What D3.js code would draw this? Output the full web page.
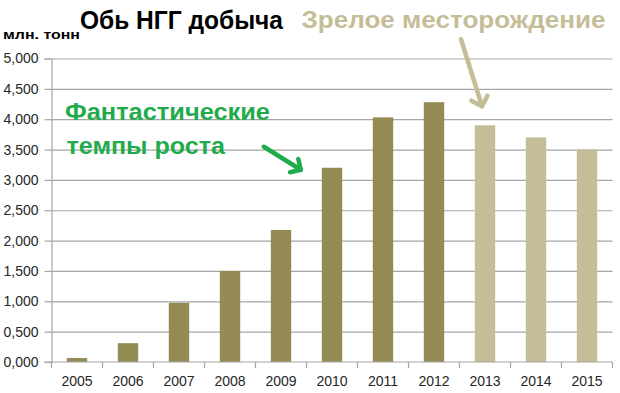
<!DOCTYPE html>
<html>
<head>
<meta charset="utf-8">
<script src="https://cdn.jsdelivr.net/npm/d3@7"></script>
<style>
  html, body { margin: 0; padding: 0; background: #fff; }
  svg { display: block; font-family: "Liberation Sans", Arial, sans-serif; }
</style>
</head>
<body>
<svg id="chart" width="620" height="393"></svg>
<script>
// ---- data ----
const years = ["2005","2006","2007","2008","2009","2010","2011","2012","2013","2014","2015"];
const production = [0.065, 0.31, 0.975, 1.5, 2.175, 3.2, 4.03, 4.28, 3.9, 3.7, 3.5];
const phase = ["growth","growth","growth","growth","growth","growth","growth","growth","mature","mature","mature"];
const yTicks = [0, 0.5, 1, 1.5, 2, 2.5, 3, 3.5, 4, 4.5, 5];
const titleText = "Обь НГГ добыча";
const subtitleText = "Зрелое месторождение";
const unitText = "млн. тонн";
const growthNote = ["Фантастические", "темпы роста"];

// ---- layout ----
const svg = d3.select("#chart");
const plotLeft = 51.5, plotRight = 612.5, plotTop = 58.5, plotBottom = 362;
const colors = { growth: "#948A54", mature: "#C4BD97" };
const gridColor = "#a6a6a6";
const green = "#22ab4c";

const x = d3.scaleBand().domain(years).range([plotLeft, plotRight]).paddingInner(0.6).paddingOuter(0.3);
const y = d3.scaleLinear().domain([0, 5]).range([plotBottom, plotTop]);
const fmt = v => d3.format(".3f")(v).replace(".", ",");

// gridlines
svg.append("g")
  .attr("transform", `translate(${plotLeft},0)`)
  .call(d3.axisLeft(y).tickValues(yTicks.filter(d => d > 0)).tickSize(-(plotRight - plotLeft)).tickFormat(""))
  .call(g => g.select(".domain").remove())
  .call(g => g.selectAll("line").attr("stroke", gridColor).attr("stroke-width", 1.2));

// y axis
svg.append("g")
  .attr("transform", `translate(${plotLeft},0)`)
  .call(d3.axisLeft(y).tickValues(yTicks).tickSize(7).tickPadding(6).tickFormat(fmt))
  .call(g => g.select(".domain").attr("stroke", gridColor).attr("stroke-width", 1.2))
  .call(g => g.selectAll("line").attr("stroke", gridColor).attr("stroke-width", 1.2))
  .call(g => g.selectAll("text").attr("fill", "#262626").attr("font-size", 14)
     .attr("font-family", "'Liberation Sans', Arial, sans-serif"));

// bars
svg.append("g").selectAll("rect")
  .data(years.map((yr, i) => ({ yr, v: production[i], p: phase[i] })))
  .join("rect")
  .attr("x", d => x(d.yr))
  .attr("width", x.bandwidth())
  .attr("y", d => y(d.v))
  .attr("height", d => y(0) - y(d.v))
  .attr("fill", d => colors[d.p]);

// x axis
const step = x.step();
const boundaries = years.map(yr => x(yr) - step * x.paddingOuter()).concat([plotRight]);
const xg = svg.append("g");
xg.append("line").attr("x1", plotLeft - 7).attr("x2", plotRight).attr("y1", plotBottom).attr("y2", plotBottom)
  .attr("stroke", gridColor).attr("stroke-width", 1.2);
xg.selectAll("line.tick").data(boundaries).join("line").attr("class", "tick")
  .attr("x1", d => d).attr("x2", d => d).attr("y1", plotBottom).attr("y2", plotBottom + 6)
  .attr("stroke", gridColor).attr("stroke-width", 1.2);
svg.append("g")
  .attr("transform", `translate(0,${plotBottom})`)
  .call(d3.axisBottom(x).tickSize(0).tickPadding(14))
  .call(g => g.select(".domain").remove())
  .call(g => g.selectAll("text").attr("fill", "#262626").attr("font-size", 14)
     .attr("font-family", "'Liberation Sans', Arial, sans-serif"));

// titles
svg.append("text").attr("x", 80).attr("y", 28.5)
  .attr("font-size", 25).attr("font-weight", "bold").attr("fill", "#000")
  .attr("textLength", 203).attr("lengthAdjust", "spacingAndGlyphs")
  .text(titleText);
svg.append("text").attr("x", 301.5).attr("y", 28)
  .attr("font-size", 24).attr("font-weight", "bold").attr("fill", colors.mature)
  .attr("textLength", 304).attr("lengthAdjust", "spacingAndGlyphs")
  .text(subtitleText);
svg.append("text").attr("x", 3).attr("y", 38.5)
  .attr("font-size", 13).attr("font-weight", "bold").attr("fill", "#000")
  .attr("textLength", 77).attr("lengthAdjust", "spacingAndGlyphs")
  .text(unitText);

// green note
svg.append("text").attr("x", 65).attr("y", 120)
  .attr("font-size", 24).attr("font-weight", "bold").attr("fill", green)
  .attr("textLength", 205).attr("lengthAdjust", "spacingAndGlyphs")
  .text(growthNote[0]);
svg.append("text").attr("x", 66.5).attr("y", 153.5)
  .attr("font-size", 24).attr("font-weight", "bold").attr("fill", green)
  .attr("textLength", 158.5).attr("lengthAdjust", "spacingAndGlyphs")
  .text(growthNote[1]);

// arrows
function arrow(x0, y0, x1, y1, color, w, head) {
  const a = Math.atan2(y1 - y0, x1 - x0);
  const p1 = [x1 - head * Math.cos(a - Math.PI / 4), y1 - head * Math.sin(a - Math.PI / 4)];
  const p2 = [x1 - head * Math.cos(a + Math.PI / 4), y1 - head * Math.sin(a + Math.PI / 4)];
  const g = svg.append("g").attr("stroke", color).attr("stroke-width", w)
    .attr("fill", "none").attr("stroke-linecap", "round").attr("stroke-linejoin", "round");
  g.append("line").attr("x1", x0).attr("y1", y0).attr("x2", x1).attr("y2", y1);
  g.append("polyline").attr("points", [p1, [x1, y1], p2].map(p => p.join(",")).join(" "));
}
const gx = x("2010") - 21, gy = y(production[5]) + 2;
arrow(gx - 37, gy - 23, gx, gy, green, 4.5, 11);
const tx = x("2013") + x.bandwidth() / 2 - 3, ty = y(production[8]) - 19;
arrow(tx - 21, ty - 67, tx, ty, colors.mature, 4.5, 12);
</script>
</body>
</html>
